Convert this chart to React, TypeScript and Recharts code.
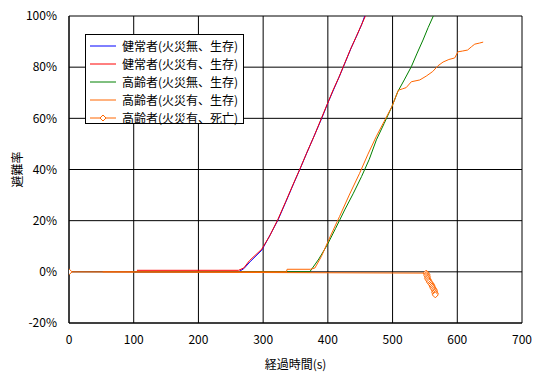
import { CartesianGrid, Legend, Line, LineChart, XAxis, YAxis } from "recharts";

// 経過時間(s) と 避難率(%) の組
const healthyNoFire = [
  [100, 0], [262, 0], [270, 1.2], [280, 4], [298, 8.5], [311, 14.5], [323, 20.3],
  [335, 27.3], [347, 34.4], [358, 40.8], [368, 46.8], [380, 53.8], [391, 60.3],
  [400, 66], [409, 71.3], [418, 76.5], [427, 82], [436, 87.5], [445, 92.5],
  [452, 96.5], [457, 100],
];
const healthyFire = [
  [105, 0.6], [262, 0.6], [270, 1.5], [279, 4.4], [298, 8.9], [310, 14], [323, 20.6],
  [335, 27.5], [346, 34], [357, 40.3], [367, 46.3], [379, 53.2], [390, 60], [399, 65.5],
  [408, 71], [417, 76], [426, 81.5], [435, 87], [444, 92], [451, 96], [458, 100],
];
const elderNoFire = [
  [100, 0], [372, 0], [376, 1.4], [386, 5], [399, 10.5], [412, 17], [426, 24.2],
  [439, 30.5], [452, 37.2], [464, 44], [475, 51.6], [487, 58], [499, 64.6],
  [508, 70.4], [518, 75], [529, 80.2], [538, 85.5], [547, 90.6], [555, 95.5], [563, 100],
];
const elderFireAlive = [
  [52, 0], [336, 0], [337, 1], [373, 1], [380, 1.5], [390, 6], [404, 14], [418, 21.6],
  [433, 30], [449, 38.5], [462, 46], [475, 53], [487, 58.8], [499, 64.6], [505, 68.5],
  [509, 71], [515, 71.5], [521, 72], [529, 74.3], [542, 75], [552, 76.5], [562, 78.3],
  [570, 80.5], [578, 82], [587, 83], [596, 83.6], [601, 86], [608, 86.3], [616, 86.7],
  [622, 88], [627, 89], [634, 89.4], [640, 89.8],
];
const elderFireDead = [
  [0, 0], [552, -0.5], [553, -1], [553, -1.5], [554, -2], [554, -2.5], [555, -3],
  [556, -3.5], [557, -4], [559, -4.5], [560, -5], [561, -5.5], [562, -6], [563, -6.5],
  [564, -7], [565, -7.5], [565, -8], [566, -8.5], [566, -9],
];

const xTicks = [0, 100, 200, 300, 400, 500, 600, 700];
const yTicks = [-20, 0, 20, 40, 60, 80, 100];

const toRows = (pairs: number[][]) => pairs.map(([t, v]) => ({ t, v }));

const series = [
  { name: "健常者(火災無、生存)", color: "#0000ff", data: healthyNoFire, marker: false },
  { name: "健常者(火災有、生存)", color: "#ff0000", data: healthyFire, marker: false },
  { name: "高齢者(火災無、生存)", color: "#008000", data: elderNoFire, marker: false },
  { name: "高齢者(火災有、生存)", color: "#ff6600", data: elderFireAlive, marker: false },
  { name: "高齢者(火災有、死亡)", color: "#ff6600", data: elderFireDead, marker: true },
];

const font = '"Noto Sans CJK JP", sans-serif';

const Diamond = (props: any) => {
  const { cx, cy, stroke } = props;
  if (cx == null || cy == null) return null;
  return (
    <polygon
      points={`${cx},${cy - 3} ${cx + 3},${cy} ${cx},${cy + 3} ${cx - 3},${cy}`}
      fill="#fff"
      stroke={stroke}
      strokeWidth={1}
    />
  );
};

const LegendBox = () => (
  <div
    style={{
      width: 159,
      height: 90,
      boxSizing: "border-box",
      border: "1px solid #000",
      background: "#fff",
      paddingTop: 2,
      fontFamily: font,
      fontSize: 12,
      color: "#000",
    }}
  >
    {series.map((s) => (
      <div key={s.name} style={{ display: "flex", alignItems: "center", height: 18 }}>
        <svg width={36} height={18} style={{ flex: "none" }}>
          <line x1={4} x2={30} y1={9} y2={9} stroke={s.color} strokeWidth={1} />
          {s.marker && (
            <polygon points="17,6 20,9 17,12 14,9" fill="#fff" stroke={s.color} />
          )}
        </svg>
        <span style={{ whiteSpace: "nowrap", lineHeight: "18px" }}>{s.name}</span>
      </div>
    ))}
  </div>
);

export default function App() {
  return (
    <div style={{ position: "absolute", left: 0, top: 0, fontFamily: font }}>
      <LineChart
        width={541}
        height={379}
        margin={{ top: 16, right: 19, left: 0, bottom: 0 }}
      >
        <CartesianGrid stroke="#000" strokeWidth={1} />
        <XAxis
          type="number"
          dataKey="t"
          domain={[0, 700]}
          ticks={xTicks}
          allowDataOverflow
          height={56}
          tickLine={false}
          tickSize={0}
          tickMargin={12}
          axisLine={{ stroke: "#000" }}
          tick={{ fill: "#000", fontSize: 12, fontFamily: font }}
          label={{
            value: "経過時間(s)",
            position: "insideBottom",
            offset: 10,
            fill: "#000",
            fontSize: 12,
            fontFamily: font,
          }}
        />
        <YAxis
          type="number"
          dataKey="v"
          domain={[-20, 100]}
          ticks={yTicks}
          allowDataOverflow
          width={69}
          tickLine={false}
          tickSize={0}
          tickMargin={12}
          axisLine={{ stroke: "#000" }}
          tickFormatter={(v: number) => `${v}%`}
          tick={{ fill: "#000", fontSize: 12, fontFamily: font }}
          label={{
            value: "避難率",
            angle: -90,
            position: "insideLeft",
            offset: 18,
            fill: "#000",
            fontSize: 12,
            fontFamily: font,
            style: { textAnchor: "middle" },
          }}
        />
        <Legend
          layout="vertical"
          align="center"
          verticalAlign="middle"
          wrapperStyle={{ left: 85, top: 34, width: 159, height: 90 }}
          content={() => <LegendBox />}
        />
        {series.map((s) => (
          <Line
            key={s.name}
            name={s.name}
            data={toRows(s.data)}
            dataKey="v"
            type="linear"
            stroke={s.color}
            strokeWidth={1}
            dot={s.marker ? <Diamond stroke={s.color} /> : false}
            activeDot={false}
            isAnimationActive={false}
          />
        ))}
      </LineChart>
    </div>
  );
}
